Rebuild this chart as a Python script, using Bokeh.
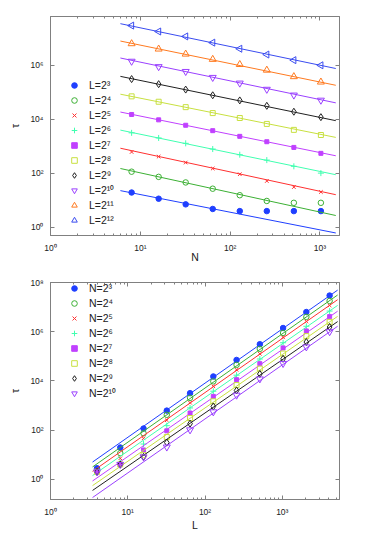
import numpy as np
from bokeh.plotting import figure
from bokeh.layouts import column
from bokeh.models import LogAxis, FixedTicker, Legend, LegendItem
from bokeh.embed import file_html
from bokeh.resources import INLINE

# ---------------- data ----------------
N_values = [8, 16, 32, 64, 128, 256, 512, 1024]           # N = 2^3 .. 2^10
L_values = [4, 8, 16, 32, 64, 128, 256, 512, 1024, 2048, 4096]  # L = 2^2 .. 2^12

# tau(L, N): one list per L, entries for N = 2^3 .. 2^10
tau_L4 = [2.8, 2.1, 2.0, 2.0, 2.0, 2.0, 2.0, 2.0]
tau_L8 = [19.5, 11.5, 7.1, 4.8, 4.0, 4.0, 4.0, 4.0]
tau_L16 = [115, 74, 46, 27, 15.5, 9.5, 8.1, 8.1]
tau_L32 = [617, 417, 251, 151, 93, 52, 31, 20.4]
tau_L64 = [3160, 2040, 1290, 794, 490, 309, 182, 102]
tau_L128 = [15100, 9550, 6030, 3800, 2340, 1480, 912, 550]
tau_L256 = [70800, 44700, 28200, 17000, 11200, 6760, 4070, 2630]
tau_L512 = [309000, 200000, 126000, 77600, 50100, 31600, 19100, 12000]
tau_L1024 = [1.41e6, 8.9e5, 5.9e5, 3.55e5, 2.19e5, 1.29e5, 7.9e4, 5.1e4]
tau_L2048 = [6.3e6, 4.0e6, 2.6e6, 1.66e6, 1.07e6, 6.6e5, 3.8e5, 2.4e5]
tau_L4096 = [2.95e7, 1.78e7, 1.17e7, 6.9e6, 4.1e6, 2.5e6, 1.55e6, 1.0e6]

tau_table = [tau_L4, tau_L8, tau_L16, tau_L32, tau_L64, tau_L128,
             tau_L256, tau_L512, tau_L1024, tau_L2048, tau_L4096]

# fitted power laws, top panel: tau at N = fit_top_N[0] and fit_top_N[1], for L = 2^3 .. 2^12
fit_top_N = [6, 1500]
fit_top_lo = [22.9, 151, 851, 3980, 18600, 85100, 389000, 1.86e6, 7.9e6, 3.47e7]
fit_top_hi = [0.62, 2.75, 16.2, 89, 447, 2140, 8910, 40700, 1.82e5, 7.6e5]

# fitted power laws, bottom panel: tau at L = fit_bot_L[0] and fit_bot_L[1], for N = 2^3 .. 2^10
fit_bot_L = [3.5, 5200]
fit_bot_lo = [5.0, 3.16, 2.09, 1.41, 0.85, 0.55, 0.35, 0.18]
fit_bot_hi = [4.9e7, 3.1e7, 2.0e7, 1.17e7, 6.8e6, 4.2e6, 2.57e6, 1.66e6]

top_legend = ["L=2³", "L=2⁴", "L=2⁵", "L=2⁶", "L=2⁷", "L=2⁸", "L=2⁹", "L=2¹⁰", "L=2¹¹", "L=2¹²"]
bot_legend = ["N=2³", "N=2⁴", "N=2⁵", "N=2⁶", "N=2⁷", "N=2⁸", "N=2⁹", "N=2¹⁰"]

x_ticks = [1, 10, 100, 1000]
x_tick_labels = ["10⁰", "10¹", "10²", "10³"]
y_ticks_top = [1, 1e2, 1e4, 1e6]
y_tick_labels_top = ["10⁰", "10²", "10⁴", "10⁶"]
y_ticks_bot = [1, 1e2, 1e4, 1e6, 1e8]
y_tick_labels_bot = ["10⁰", "10²", "10⁴", "10⁶", "10⁸"]

# ---------------- styles ----------------
colors = ["#1f3fff", "#3cb034", "#ff3030", "#40ffb0", "#c040ff",
          "#c8e040", "#202020", "#9a40ff", "#ff7a20", "#3a4cf0"]
markers = ["circle", "circle", "x", "cross", "square", "square",
           "diamond", "inverted_triangle", "triangle", "triangle"]
filled = [True, False, False, False, True, False, False, False, False, False]
angles = [0, 0, 0, 0, 0, 0, 0, 0, 0, np.pi / 2]
sizes = [5.5, 5.5, 5, 6, 4, 5, 7, 7, 7, 7]

FONT = "Liberation Sans"
FRAME = "#808080"

minor_x = [m * 10 ** d for d in range(0, 4) for m in range(2, 10)]


def tick_style(a):
    a.axis_line_color = FRAME
    a.major_tick_line_color = FRAME
    a.minor_tick_line_color = FRAME
    a.major_tick_in = 4
    a.major_tick_out = 0
    a.minor_tick_in = 2
    a.minor_tick_out = 0


def style(p, yt, ylabels, xlabel, xl_standoff):
    p.outline_line_color = FRAME
    p.grid.visible = False
    p.background_fill_color = "white"
    ax = p.xaxis[0]
    ax.ticker = FixedTicker(ticks=x_ticks, minor_ticks=minor_x)
    ax.major_label_overrides = {float(t): s for t, s in zip(x_ticks, x_tick_labels)}
    ay = p.yaxis[0]
    ay.ticker = FixedTicker(ticks=yt)
    ay.major_label_overrides = {float(t): s for t, s in zip(yt, ylabels)}
    for a in (ax, ay):
        tick_style(a)
        a.major_label_text_font = FONT
        a.major_label_text_font_size = "8.5px"
        a.major_label_text_color = "#202020"
        a.axis_label_text_font = FONT
        a.axis_label_text_font_size = "10.5px"
        a.axis_label_text_font_style = "normal"
        a.axis_label_text_color = "#202020"
    ax.axis_label = xlabel
    ax.major_label_standoff = 7
    ax.axis_label_standoff = xl_standoff
    ay.axis_label = "τ"
    ay.major_label_standoff = 7
    ay.axis_label_standoff = 6
    # mirrored ticks on top and right
    top = LogAxis(ticker=FixedTicker(ticks=x_ticks, minor_ticks=minor_x))
    right = LogAxis(ticker=FixedTicker(ticks=yt))
    for a in (top, right):
        tick_style(a)
        a.major_label_text_font_size = "1px"
        a.major_label_text_alpha = 0
        a.major_label_standoff = 0
    p.add_layout(top, "above")
    p.add_layout(right, "right")


def add_legend(p, items, x, y):
    leg = Legend(items=items, location=(x, y), background_fill_alpha=0,
                 border_line_alpha=0, padding=0, margin=0, spacing=1,
                 label_height=14, glyph_height=14, glyph_width=14,
                 label_standoff=8, label_text_font=FONT,
                 label_text_font_size="10.5px", label_text_color="#202020")
    p.add_layout(leg, "center")


# ---------------- top panel: tau vs N ----------------
p1 = figure(width=358, height=265, x_axis_type="log", y_axis_type="log",
            x_range=(1, 1650), y_range=(0.5, 6.4e7),
            output_backend="svg", toolbar_location=None,
            min_border_left=50, min_border_right=19,
            min_border_top=16, min_border_bottom=29)
style(p1, y_ticks_top, y_tick_labels_top, "N", -5)

items1 = []
for i in range(10):
    row = tau_table[i + 1]
    c = colors[i]
    p1.line(fit_top_N, [fit_top_lo[i], fit_top_hi[i]], line_color=c, line_width=1)
    r = p1.scatter(N_values, row, marker=markers[i], size=sizes[i], angle=angles[i],
                   line_color=c, fill_color=c if filled[i] else None, line_width=1)
    items1.append(LegendItem(label=top_legend[i], renderers=[r]))
add_legend(p1, items1, 17, 8)

# ---------------- bottom panel: tau vs L ----------------
p2 = figure(width=358, height=276, x_axis_type="log", y_axis_type="log",
            x_range=(1, 5500), y_range=(0.15, 1e8),
            output_backend="svg", toolbar_location=None,
            min_border_left=49, min_border_right=19,
            min_border_top=17, min_border_bottom=42)
style(p2, y_ticks_bot, y_tick_labels_bot, "L", -1)

items2 = []
for j in range(8):
    col = [tau_table[k][j] for k in range(len(L_values))]
    c = colors[j]
    p2.line(fit_bot_L, [fit_bot_lo[j], fit_bot_hi[j]], line_color=c, line_width=1)
    r = p2.scatter(L_values, col, marker=markers[j], size=sizes[j], angle=angles[j],
                   line_color=c, fill_color=c if filled[j] else None, line_width=1)
    items2.append(LegendItem(label=bot_legend[j], renderers=[r]))
add_legend(p2, items2, 17, 99)

layout = column(p1, p2)
open("out.html", "w").write(file_html(layout, INLINE))
